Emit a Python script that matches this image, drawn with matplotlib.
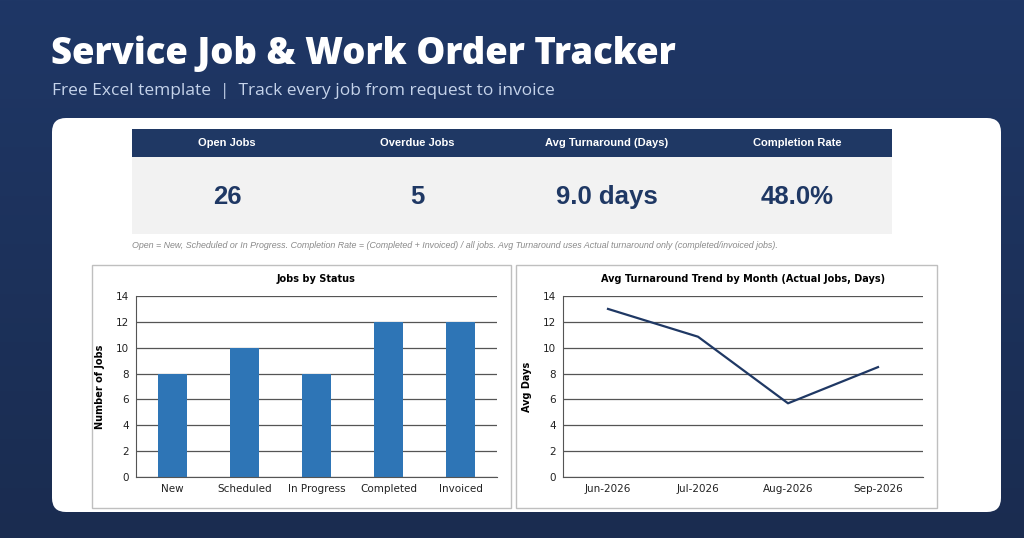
import numpy as np
import matplotlib.pyplot as plt
from matplotlib.patches import FancyBboxPatch, Rectangle
from matplotlib.colors import LinearSegmentedColormap

# Data
kpi_labels = ['Open Jobs', 'Overdue Jobs', 'Avg Turnaround (Days)', 'Completion Rate']
kpi_values = ['26', '5', '9.0 days', '48.0%']
statuses = ['New', 'Scheduled', 'In Progress', 'Completed', 'Invoiced']
status_counts = [8, 10, 8, 12, 12]
months = ['Jun-2026', 'Jul-2026', 'Aug-2026', 'Sep-2026']
avg_days = [13.0, 10.85, 5.7, 8.5]

W, H = 1024, 538
NAVY = '#1f3864'
BAR = '#2e75b6'

def box(x0, y0, x1, y1):
    # pixel box (top-left origin) -> figure fraction rect
    return [x0 / W, 1 - y1 / H, (x1 - x0) / W, (y1 - y0) / H]

fig = plt.figure(figsize=(W / 100, H / 100), dpi=100)

# background gradient
bg = fig.add_axes([0, 0, 1, 1])
grad = np.linspace(0, 1, 256).reshape(-1, 1)
cmap = LinearSegmentedColormap.from_list('bg', ['#1f3766', '#1a2c50'])
bg.imshow(grad, aspect='auto', cmap=cmap, extent=[0, W, H, 0])
bg.set_xlim(0, W)
bg.set_ylim(H, 0)
bg.axis('off')

bg.text(51, 55, 'Service Job & Work Order Tracker', color='white', fontsize=26.3,
        fontweight='heavy', family='Open Sans', va='center')
bg.text(52, 91, 'Free Excel template  |  Track every job from request to invoice',
        color='#c5d3ea', fontsize=12.5, family='Open Sans', va='center')

# white card
bg.add_patch(FancyBboxPatch((52, 118), 949, 394, boxstyle='round,pad=0,rounding_size=14',
                            fc='white', ec='none'))

# KPI table
bg.add_patch(Rectangle((132, 129), 760, 28, fc=NAVY, ec='none'))
bg.add_patch(Rectangle((132, 157), 760, 77, fc='#f2f2f2', ec='none'))
for i, (lab, val) in enumerate(zip(kpi_labels, kpi_values)):
    cx = 227 + i * 190
    bg.text(cx, 143, lab, color='white', fontsize=8, fontweight='bold',
            family='Liberation Sans', ha='center', va='center')
    bg.text(cx, 197, val, color=NAVY, fontsize=18.5, fontweight='bold',
            family='Liberation Sans', ha='center', va='center')
bg.text(132, 245, 'Open = New, Scheduled or In Progress. Completion Rate = (Completed + Invoiced) / all jobs. '
        'Avg Turnaround uses Actual turnaround only (completed/invoiced jobs).',
        color='#8a8a8a', fontsize=6.4, style='italic', family='Liberation Sans', va='center')

# chart frames
for x0, x1 in [(92, 511), (516, 937)]:
    bg.add_patch(Rectangle((x0, 265), x1 - x0, 243, fc='white', ec='#bfbfbf', lw=1))

def style(ax, title, ylabel):
    ax.set_ylim(0, 14)
    ax.set_yticks(range(0, 15, 2))
    ax.grid(axis='y', color='#555555', lw=0.9)
    ax.set_axisbelow(True)
    for s in ['top', 'right']:
        ax.spines[s].set_visible(False)
    ax.spines['left'].set_color('#555555')
    ax.spines['bottom'].set_color('#555555')
    ax.tick_params(length=0, labelsize=7.5, colors='#222222', pad=5)
    ax.set_ylabel(ylabel, fontsize=7, fontweight='bold', labelpad=8)
    ax.set_title(title, fontsize=7, fontweight='bold', pad=10)

ax1 = fig.add_axes(box(136, 296, 497, 477))
ax1.bar(range(len(statuses)), status_counts, width=0.4, color=BAR)
ax1.set_xticks(range(len(statuses)))
ax1.set_xticklabels(statuses)
ax1.set_xlim(-0.5, len(statuses) - 0.5)
style(ax1, 'Jobs by Status', 'Number of Jobs')

ax2 = fig.add_axes(box(563, 296, 923, 477))
ax2.plot(range(len(months)), avg_days, color=NAVY, lw=1.6)
ax2.set_xticks(range(len(months)))
ax2.set_xticklabels(months)
ax2.set_xlim(-0.5, len(months) - 0.5)
style(ax2, 'Avg Turnaround Trend by Month (Actual Jobs, Days)', 'Avg Days')

fig.savefig('out.png', dpi=100)
